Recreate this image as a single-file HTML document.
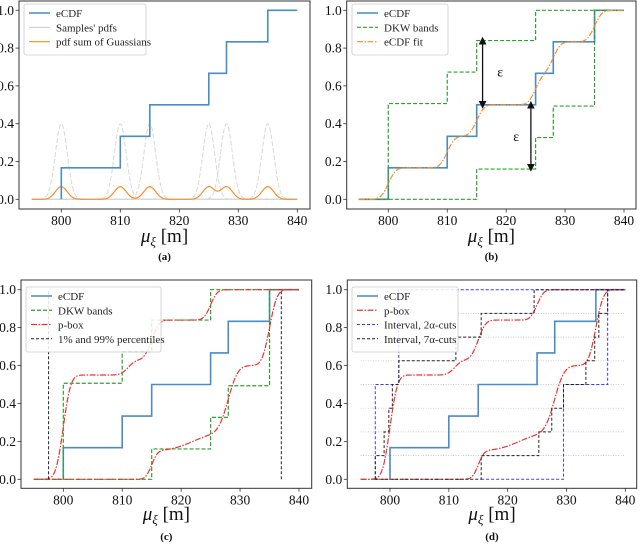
<!DOCTYPE html>
<html><head><meta charset="utf-8"><style>
html,body{margin:0;padding:0;background:#fff;width:640px;height:550px;overflow:hidden}
svg, svg text{font-family:"Liberation Serif","DejaVu Serif",serif}
</style></head><body>
<svg id="fig" width="640" height="550" viewBox="0 0 640 550"></svg>
<script>
// ---- data ----
const samples = [800, 810, 815, 825, 828, 835];
const xTicks = [800, 810, 820, 830, 840];
const yTicks = [0, 0.2, 0.4, 0.6, 0.8, 1.0];
const dkwEps = 0.34;
const upperCenters = [800, 811, 815, 825];
const upperWeights = [0.55, 0.08, 0.21, 0.16];
const upperSigmas = [1.0, 1.0, 1.0, 0.9];
const lowerCenters = [815, 822, 828, 835];
const lowerWeights = [0.15, 0.10, 0.35, 0.40];
const lowerSigmas = [0.8, 3.0, 1.3, 1.0];
const percentiles = [797.5, 837];
const cut2Upper = [[797.5, 0], [797.5, 0.5], [801.5, 0.5], [801.5, 1], [840, 1]];
const cut2Lower = [[815.5, 0], [829.5, 0], [829.5, 0.5], [837, 0.5], [837, 1]];
const cut7UpperX = [797.5, 799, 799.8, 800.4, 801.5, 811.2, 815.5, 824.5];
const cut7LowerX = [815.5, 825.3, 827.5, 829.5, 833.3, 834.8, 835.5, 837];
const cutLevels = [0.125, 0.25, 0.375, 0.5, 0.625, 0.75, 0.875, 1.0];

const NS = "http://www.w3.org/2000/svg";
const SERIF = '"Liberation Serif", "DejaVu Serif", serif';
const fig = document.getElementById('fig');
function el(tag, attrs, parent){const e=document.createElementNS(NS,tag);for(const k in attrs)e.setAttribute(k,attrs[k]);if(tag==='text')e.setAttribute('font-family',SERIF);(parent||fig).appendChild(e);return e;}
function erf(x){const s=Math.sign(x);x=Math.abs(x);const t=1/(1+0.3275911*x);const y=1-(((((1.061405429*t-1.453152027)*t)+1.421413741)*t-0.284496736)*t+0.254829592)*t*Math.exp(-x*x);return s*y;}
function Phi(z){return 0.5*(1+erf(z/Math.SQRT2));}
function mix(x,c,w,s){let v=0;for(let i=0;i<c.length;i++)v+=w[i]*Phi((x-c[i])/s[i]);return v;}

const panels = [
 {id:'a',L:19,R:310,T:1,B:209,x0:61.3,x1:297.3,y0:199.3,y1:10.3,cap:'(a)',capY:260,labY:242},
 {id:'b',L:346.7,R:636,T:1,B:209,x0:388.3,x1:624,y0:199.3,y1:10.3,cap:'(b)',capY:260,labY:242},
 {id:'c',L:21,R:311.7,T:280,B:488.3,x0:63.3,x1:299,y0:479.3,y1:289.7,cap:'(c)',capY:540,labY:520},
 {id:'d',L:347.3,R:636.7,T:280,B:488.3,x0:390,x1:625.3,y0:479.3,y1:289.7,cap:'(d)',capY:540,labY:520}
];

function setup(p){
  const g=el('g',{});
  
  
  p.g=g;
  p.sx=v=>p.x0+(v-800)/40*(p.x1-p.x0);
  p.sy=v=>p.y0+v*(p.y1-p.y0);
  const r=el('rect',{x:p.L,y:p.T,width:p.R-p.L,height:p.B-p.T,fill:'none',stroke:'#333','stroke-width':1},g);
  
  
  for(const t of xTicks){
    const X=p.sx(t);
    el('line',{x1:X,x2:X,y1:p.B,y2:p.B+3.5,stroke:'#333','stroke-width':0.8},g);
    const tx=el('text',{x:X,y:p.B+16,'font-size':13.5,'text-anchor':'middle',fill:'#111'},g);
    tx.textContent=t;
    
    
  }
  for(const t of yTicks){
    const Y=p.sy(t);
    el('line',{x1:p.L-3.5,x2:p.L,y1:Y,y2:Y,stroke:'#333','stroke-width':0.8},g);
    const tx=el('text',{x:p.L-5,y:Y+4.5,'font-size':13.5,'text-anchor':'end',fill:'#111'},g);
    tx.textContent=t.toFixed(1);
    
    
  }
  const lab=el('text',{x:(p.L+p.R)/2,y:p.labY,'font-size':19,'text-anchor':'middle',fill:'#111'},g);
  lab.innerHTML='<tspan font-style="italic">μ</tspan><tspan font-style="italic" font-size="13" dy="4">ξ</tspan><tspan dy="-4"> [m]</tspan>';
  
  
  const cap=el('text',{x:(p.L+p.R)/2,y:p.capY,'font-size':11,'font-weight':'bold','text-anchor':'middle',fill:'#111'},g);
  cap.textContent=p.cap;
  
  
}
function path(p,pts,style,name){
  const d=pts.map((q,i)=>(i?'L':'M')+p.sx(q[0]).toFixed(2)+','+p.sy(q[1]).toFixed(2)).join('');
  const e=el('path',Object.assign({d:d,fill:'none'},style),p.g);
  
  
  return e;
}
function stepPts(xs,levels,start,end,base){
  const pts=[[start,base]];
  for(let i=0;i<xs.length;i++){pts.push([xs[i],i?levels[i-1]:base]);pts.push([xs[i],levels[i]]);}
  pts.push([end,levels[levels.length-1]]);return pts;
}
function ecdfPts(a,b){const lv=samples.map((_,i)=>(i+1)/samples.length);return stepPts(samples,lv,a,b,0);}
function funcPts(f,a,b){const pts=[];for(let x=a;x<=b+1e-9;x+=0.1)pts.push([x,f(x)]);return pts;}
function dkw(sign){
  const n=samples.length;
  const lev=k=>{
    if(sign>0) return k===0?0:Math.min(1,k/n+dkwEps);
    return k===n?1:Math.max(0,k/n-dkwEps);
  };
  const lv=samples.map((_,i)=>lev(i+1));
  return stepPts(samples,lv,795,840,lev(0));
}
function legend(p,x,y,w,h,items){
  const g=el('g',{},p.g);
  
  
  el('rect',{x:x,y:y,width:w,height:h,rx:2,fill:'#fff','fill-opacity':0.85,stroke:'#ccc','stroke-width':0.8},g);
  items.forEach((it,i)=>{
    const yy=y+9+i*(h-8)/items.length;
    const ln=el('line',Object.assign({x1:x+5,x2:x+26,y1:yy,y2:yy},it.style),g);
    
    
    const t=el('text',{x:x+32,y:yy+4,'font-size':11,fill:'#222'},g);
    t.textContent=it.label;
    
    
  });
}
const BLUE={stroke:'#4a8cc4','stroke-width':1.6};
const GREEN={stroke:'#2ca02c','stroke-width':1.2,'stroke-dasharray':'4,2'};
const ORANGE={stroke:'#ff8c2a','stroke-width':1.2,'stroke-dasharray':'6,1.5,1.5,1.5'};
const RED={stroke:'#f03030','stroke-width':1.2,'stroke-dasharray':'6,1.5,1.5,1.5'};
const BLACKD={stroke:'#222','stroke-width':1,'stroke-dasharray':'3,2'};
const BLUED={stroke:'#3a3aff','stroke-width':1,'stroke-dasharray':'3,2'};
const upper=x=>mix(x,upperCenters,upperWeights,upperSigmas);
const lower=x=>mix(x,lowerCenters,lowerWeights,lowerSigmas);
const fit=x=>mix(x,samples,samples.map(()=>1/samples.length),samples.map(()=>1));

panels.forEach(setup);
// Panel a
(function(){const p=panels[0];
  path(p,[[795,0],[840,0]],{stroke:'#bbb','stroke-width':1},'baseline');
  samples.forEach(s=>path(p,funcPts(x=>0.4*Math.exp(-0.5*(x-s)*(x-s)),795,840),{stroke:'#d8d8d8','stroke-width':1,'stroke-dasharray':'5,2'},'sample-pdf'));
  path(p,funcPts(x=>samples.reduce((a,s)=>a+0.4*Math.exp(-0.5*(x-s)*(x-s)),0)/samples.length,795,840),{stroke:'#ff8c2a','stroke-width':1.2},'pdf-sum');
  path(p,ecdfPts(800,840),BLUE,'ecdf-line');
  legend(p,24,4,122,51,[{label:'eCDF',style:BLUE},{label:"Samples' pdfs",style:{stroke:'#ccc','stroke-width':1}},{label:'pdf sum of Guassians',style:{stroke:'#ff8c2a','stroke-width':1.2}}]);
})();
// Panel b
(function(){const p=panels[1];
  path(p,[[795,0]].concat(ecdfPts(800,840)),BLUE,'ecdf-line');
  path(p,dkw(1),GREEN,'dkw-upper');
  path(p,dkw(-1),GREEN,'dkw-lower');
  path(p,funcPts(fit,795,840),ORANGE,'ecdf-fit');
  const defs=el('defs',{});
  defs.innerHTML='<marker id="ah" markerWidth="6" markerHeight="6" refX="3" refY="3" orient="auto-start-reverse"><path d="M0,0L6,3L0,6z" fill="#111"/></marker>';
  [[816,0.5,0.5+dkwEps,819,0.67],[824.2,1/6,0.5,821.7,0.33]].forEach(a=>{
    path(p,[[a[0],a[1]],[a[0],a[2]]],{stroke:'#111','stroke-width':1.3,'marker-start':'url(#ah)','marker-end':'url(#ah)'},'epsilon-arrow');
    const t=el('text',{x:p.sx(a[3]),y:p.sy(a[4])+4,'font-size':14,'text-anchor':'middle',fill:'#111'},p.g);
    t.textContent='ε';
    
    
  });
  legend(p,352,4,96,51,[{label:'eCDF',style:BLUE},{label:'DKW bands',style:GREEN},{label:'eCDF fit',style:ORANGE}]);
})();
// Panel c
(function(){const p=panels[2];
  path(p,[[800,0]].concat(ecdfPts(800,840).slice(1)),BLUE,'ecdf-line');
  path(p,dkw(1),GREEN,'dkw-upper');
  path(p,dkw(-1),GREEN,'dkw-lower');
  path(p,funcPts(upper,795,840),RED,'pbox-upper');
  path(p,funcPts(lower,795,840),RED,'pbox-lower');
  percentiles.forEach(v=>path(p,[[v,0],[v,1]],BLACKD,'percentile-line'));
  legend(p,26,287,135,65,[{label:'eCDF',style:BLUE},{label:'DKW bands',style:GREEN},{label:'p-box',style:RED},{label:'1% and 99% percentiles',style:BLACKD}]);
})();
// Panel d
(function(){const p=panels[3];
  cutLevels.forEach(l=>path(p,[[795,l],[840,l]],{stroke:'#bbb','stroke-width':0.7,'stroke-dasharray':'1,1.5'},'alpha-level-gridline'));
  path(p,[[800,0]].concat(ecdfPts(800,840).slice(1)),BLUE,'ecdf-line');
  path(p,funcPts(upper,795,840),RED,'pbox-upper');
  path(p,funcPts(lower,795,840),RED,'pbox-lower');
  path(p,cut2Upper,BLUED,'interval-2cut-upper');
  path(p,cut2Lower,BLUED,'interval-2cut-lower');
  path(p,[[797.5,0]].concat(stepPts(cut7UpperX,cutLevels,797.5,840,0).slice(1)),BLACKD,'interval-7cut-upper');
  path(p,[[797.5,0]].concat(stepPts(cut7LowerX,cutLevels,815.5,840,0)),BLACKD,'interval-7cut-lower');
  legend(p,352,287,106,65,[{label:'eCDF',style:BLUE},{label:'p-box',style:RED},{label:'Interval, 2α-cuts',style:BLUED},{label:'Interval, 7α-cuts',style:BLACKD}]);
})();
</script>
</body></html>
